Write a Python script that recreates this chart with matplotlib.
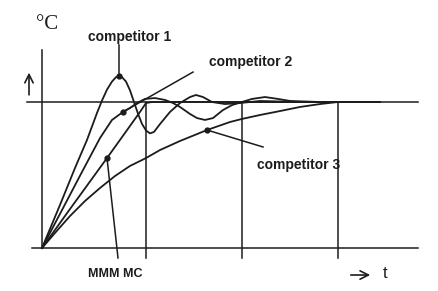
import matplotlib
matplotlib.use("Agg")
import matplotlib.pyplot as plt

# time (arbitrary units) and temperature (% of set point)
t_comp1 = [0, 18, 33, 45, 55, 60, 65, 70, 74, 77, 80, 84, 88, 92, 96, 100, 104,
           108, 112, 118, 128, 138, 148, 154, 161, 170, 183, 198, 218, 258, 338]
temp_comp1 = [0, 29.5, 54.8, 74.0, 92.5, 101.0, 108.5, 114.0, 117.0, 117.8, 117.0,
              114.0, 108.0, 100.0, 92.0, 85.0, 80.5, 78.5, 79.5, 84.9, 93.2, 99.3,
              103.4, 104.8, 103.4, 100, 98.6, 99.3, 100.7, 100, 100]

t_comp2 = [0, 20, 40, 58, 70, 81, 88, 95, 103, 113, 123, 131, 138, 148, 155, 163,
           171, 181, 190, 200, 210, 223, 236, 248, 278, 338]
temp_comp2 = [0, 26.0, 52.1, 75.3, 87.7, 93.2, 95.9, 99.3, 102.1, 102.7, 101.4,
              99.3, 96.6, 91.8, 89.0, 87.7, 89.0, 94.5, 97.9, 100, 102.1, 103.4,
              102.1, 100.7, 100, 100]

t_mmm = [0, 28, 65, 88, 98, 104, 110, 158, 338]
temp_mmm = [0, 26.7, 61.6, 83.6, 93.2, 99.3, 100, 100, 100]

t_comp3 = [0, 13, 28, 43, 58, 73, 88, 104, 118, 138, 165, 188, 200, 218, 238,
           258, 278, 296, 338]
temp_comp3 = [0, 10.3, 21.9, 32.2, 41.1, 49.3, 56.2, 61.6, 67.1, 73.3, 80.8, 86.3,
              88.4, 91.1, 93.8, 96.6, 98.6, 100, 100]

set_point = 100
marker_times = [104, 200, 296]

ink = "#1c1c1c"
fig = plt.figure(figsize=(4.39, 2.91), dpi=100)
ax = fig.add_axes([0, 0, 1, 1])
ax.set_xlim(-42, 397)
ax.set_ylim(-29.45, 169.86)
ax.axis("off")

# axes, set point and time markers
ax.plot([0, 0], [0, 135.6], color=ink, lw=1.1)
ax.plot([-10, 376], [0, 0], color=ink, lw=1.1)
ax.plot([-15, 376], [set_point, set_point], color=ink, lw=1.1)
for tm in marker_times:
    ax.plot([tm, tm], [set_point, -6.8], color=ink, lw=1.1)

# response curves
for t, temp in [(t_comp1, temp_comp1), (t_comp2, temp_comp2),
                (t_mmm, temp_mmm), (t_comp3, temp_comp3)]:
    ax.plot(t, temp, color=ink, lw=1.3, solid_joinstyle="round")

# labels with leader lines
lbl = dict(fontweight="bold", family="Liberation Sans",
           color=ink, ha="center", va="center")
leaders = [
    ("competitor 1", t_comp1[9], temp_comp1[9], (77, 139), (88, 144.5)),
    ("competitor 2", t_comp2[5], temp_comp2[5], (151, 120.5), (209, 127.4)),
    ("MMM MC", t_mmm[2], temp_mmm[2], (76, -6.8), (73, -17.8)),
    ("competitor 3", t_comp3[10], temp_comp3[10], (221, 69.2), (257, 56.8)),
]
for name, x, y, end, pos in leaders:
    ax.plot([x, end[0]], [y, end[1]], color=ink, lw=1.1)
    ax.plot(x, y, "o", color=ink, ms=3.5)
    size = 9 if name == "MMM MC" else 10
    ax.text(pos[0], pos[1], name, fontsize=size, **lbl)

# unit, up arrow and time arrow
ax.text(5, 153, "°C", fontsize=15, family="Liberation Serif", color=ink,
        ha="center", va="center")
ax.annotate("", xy=(-13, 122), xytext=(-13, 103),
            arrowprops=dict(arrowstyle="->,head_length=0.6,head_width=0.3",
                            color=ink, lw=1.2))
ax.annotate("", xy=(331, -18.5), xytext=(306, -18.5),
            arrowprops=dict(arrowstyle="->,head_length=0.6,head_width=0.3",
                            color=ink, lw=1.2))
ax.text(343, -17.5, "t", fontsize=12, family="Liberation Sans", color=ink,
        ha="center", va="center")

fig.savefig("out.png", dpi=100)
